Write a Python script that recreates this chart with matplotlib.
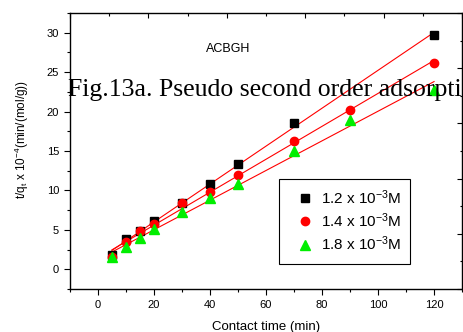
import matplotlib.pyplot as plt
import numpy as np
from matplotlib.patches import Rectangle
from matplotlib.ticker import MultipleLocator

# contact time (min)
time = [5, 10, 15, 20, 30, 40, 50, 70, 90, 120]

# t/qt x 10^-4 for each initial concentration (no reading at 90 min for 1.2 mM)
time_12 = [5, 10, 15, 20, 30, 40, 50, 70, 120]
tq_12 = [1.8, 3.8, 4.8, 6.15, 8.4, 10.8, 13.3, 18.5, 29.7]
tq_14 = [1.6, 3.4, 4.8, 5.7, 8.35, 9.75, 11.9, 16.3, 20.2, 26.15]
tq_18 = [1.5, 2.8, 4.0, 5.05, 7.2, 9.1, 10.8, 15.0, 18.9, 22.7]

labels = ['1.2 x 10$^{-3}$M', '1.4 x 10$^{-3}$M', '1.8 x 10$^{-3}$M']

plt.rcParams['font.family'] = ['Liberation Sans', 'DejaVu Sans']
plt.rcParams['mathtext.fontset'] = 'custom'
plt.rcParams['mathtext.rm'] = 'Liberation Sans'
plt.rcParams['mathtext.it'] = 'Liberation Sans'

fig = plt.figure(figsize=(4.63, 3.32), dpi=100)
ax = fig.add_axes([0.151, 0.1295, 0.847, 0.8315])

styles = [('s', 'black', 5.5), ('o', 'red', 6), ('^', '#00ee00', 6.5)]
handles = []
for x, y, (m, c, ms), lab in zip([time_12, time, time], [tq_12, tq_14, tq_18], styles, labels):
    x = np.array(x, dtype=float)
    k, b = np.polyfit(x, y, 1)
    xx = np.array([x[0], x[-1]])
    ax.plot(xx, k * xx + b, color='red', lw=0.8, zorder=2)
    h, = ax.plot(x, y, ls='none', marker=m, color=c, markersize=ms, zorder=3, label=lab)
    handles.append(h)

ax.set_xlim(-10, 130)
ax.set_ylim(-2.5, 32.5)
ax.xaxis.set_major_locator(MultipleLocator(20))
ax.xaxis.set_minor_locator(MultipleLocator(10))
ax.yaxis.set_major_locator(MultipleLocator(5))
ax.yaxis.set_minor_locator(MultipleLocator(2.5))
ax.tick_params(which='both', labelsize=8, width=0.8, direction='out')
ax.tick_params(which='major', length=4.3)
ax.tick_params(which='minor', length=2.3)
for sp in ax.spines.values():
    sp.set_linewidth(1.0)

# top and right ticks come from a separate frame scale, pointing inwards
top = ax.twiny()
top.set_xlim(-2, 8)
top.xaxis.set_major_locator(MultipleLocator(2))
top.xaxis.set_minor_locator(MultipleLocator(1))
top.tick_params(which='both', direction='in', labeltop=False, width=0.8)
top.tick_params(which='major', length=3.5)
top.tick_params(which='minor', length=1.8)
right = ax.twinx()
right.set_ylim(0, 10)
right.yaxis.set_major_locator(MultipleLocator(2))
right.yaxis.set_minor_locator(MultipleLocator(1))
right.tick_params(which='both', direction='in', labelright=False, width=0.8)
right.tick_params(which='major', length=3.5)
right.tick_params(which='minor', length=1.8)
for a in (top, right):
    a.set_navigate(False)
    for sp in a.spines.values():
        sp.set_visible(False)
    a.patch.set_visible(False)
top.yaxis.set_visible(False)
right.xaxis.set_visible(False)

ax.set_xlabel('Contact time (min)', fontsize=9.5, labelpad=8)
ax.set_ylabel('t/q$_t$ x 10$^{-4}$(min/(mol/g))', fontsize=8.5)
ax.yaxis.set_label_coords(-0.10, 0.543)

ax.text(46.5, 27.9, 'ACBGH', fontsize=9, ha='center', va='center')

# legend box
ax.add_patch(Rectangle((0.533, 0.091), 0.334, 0.308, transform=ax.transAxes,
                       fill=False, lw=0.8, ec='black', zorder=4))
ax.legend(handles=handles, loc='upper left', bbox_to_anchor=(0.54, 0.41),
          frameon=False, fontsize=11, handletextpad=0.3, labelspacing=0.3,
          handlelength=1.5, borderpad=0.3)

fig.text(68 / 463, 1 - 96 / 332, 'Fig.13a. Pseudo second order adsorpti',
         fontsize=18.5, family='Liberation Serif', ha='left', va='baseline', zorder=10)

fig.savefig('out.png', dpi=100)
